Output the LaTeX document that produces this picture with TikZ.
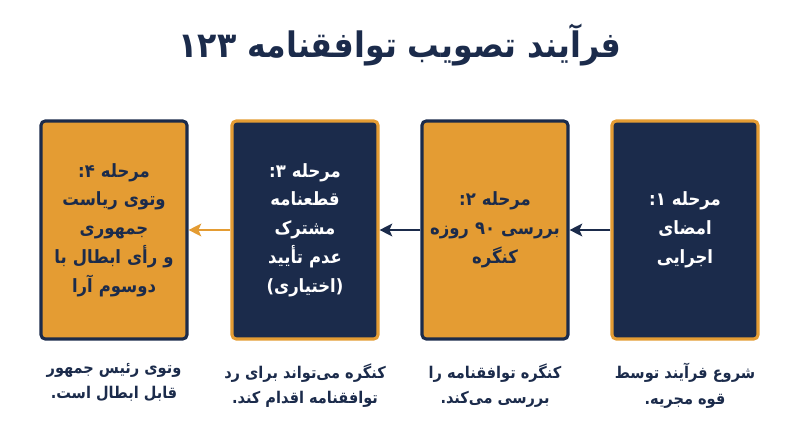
\documentclass[tikz,border=0pt]{standalone}
\usepackage{fontspec}
\usepackage{xcolor}
\usepackage{tikz}
\usetikzlibrary{positioning,arrows.meta}
\newfontfamily\farsi[Script=Arabic]{DejaVu Sans Condensed}
\TeXXeTstate=1
\definecolor{navy}{HTML}{1B2B4B}
\definecolor{narenji}{HTML}{E49C33}
% one right-to-left line
\newcommand{\fa}[1]{\mbox{\beginR #1\endR}}

\begin{document}
\begin{tikzpicture}[
  stage/.style={rectangle, rounded corners=3pt, line width=2.2pt,
    text width=3.5cm, inner sep=0.075cm, minimum height=5.45cm, align=center,
    font=\farsi\bfseries\fontsize{13}{20.5}\selectfont},
  navybox/.style={stage, fill=navy, draw=narenji, text=white},
  zardbox/.style={stage, fill=narenji, draw=navy, text=navy},
  caption/.style={align=center, text=navy,
    font=\farsi\bfseries\fontsize{11.5}{18}\selectfont},
  flow/.style={line width=1.6pt, -{Stealth[length=9pt,width=9pt,inset=2pt]}}
]
  % size of the page
  \useasboundingbox (0,0) rectangle (20,11.175);

  % title
  \node[text=navy, font=\farsi\bfseries\fontsize{25}{30}\selectfont] (title) at (10,10.05)
    {\fa{فرآیند تصویب توافقنامه \beginL۱۲۳\endL}};

  % four stages, right to left
  \node[navybox] (marhale1) at (17.125,5.425)
    {\fa{مرحله ۱:}\\\fa{امضای}\\\fa{اجرایی}};
  \node[zardbox] (marhale2) at (12.375,5.425)
    {\fa{مرحله ۲:}\\\fa{بررسی \beginL۹۰\endL{} روزه}\\\fa{کنگره}};
  \node[navybox] (marhale3) at (7.625,5.425)
    {\fa{مرحله ۳:}\\\fa{قطعنامه}\\\fa{مشترک}\\\fa{عدم تأیید}\\\fa{(اختیاری)}};
  \node[zardbox] (marhale4) at (2.85,5.425)
    {\fa{مرحله ۴:}\\\fa{وتوی ریاست}\\\fa{جمهوری}\\\fa{و رأی ابطال با}\\\fa{دوسوم آرا}};

  % captions under the stages
  \node[caption, below=0.45cm of marhale1] (sharh1)
    {\fa{شروع فرآیند توسط}\\\fa{قوه مجریه.}};
  \node[caption, below=0.45cm of marhale2] (sharh2)
    {\fa{کنگره توافقنامه را}\\\fa{بررسی می‌کند.}};
  \node[caption, below=0.45cm of marhale3] (sharh3)
    {\fa{کنگره می‌تواند برای رد}\\\fa{توافقنامه اقدام کند.}};
  \node[caption, below=0.45cm of marhale4] (sharh4)
    {\fa{وتوی رئیس جمهور}\\\fa{قابل ابطال است.}};

  % arrows
  \draw[flow, navy] (marhale1) -- (marhale2);
  \draw[flow, navy] (marhale2) -- (marhale3);
  \draw[flow, narenji] (marhale3) -- (marhale4);
\end{tikzpicture}
\end{document}
